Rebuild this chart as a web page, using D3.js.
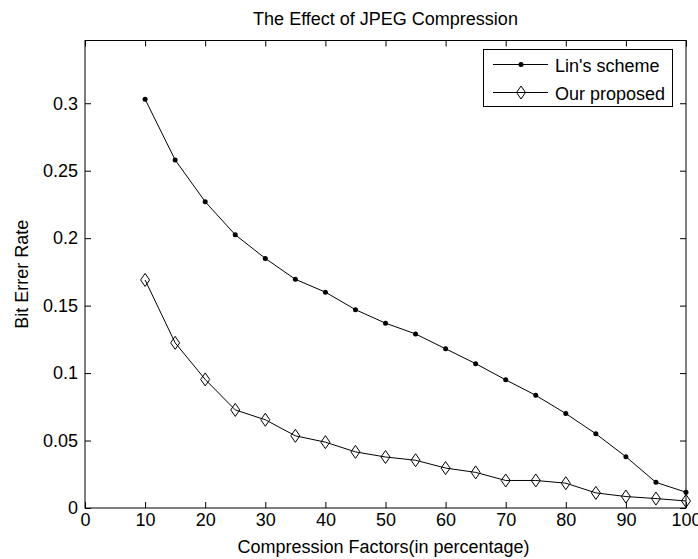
<!DOCTYPE html>
<html>
<head>
<meta charset="utf-8">
<script src="https://cdn.jsdelivr.net/npm/d3@7"></script>
<style>
    body { margin: 0; background: #fff; }
    svg { display: block; font-family: "Liberation Sans", Arial, sans-serif; }
    text { font-size: 18px; fill: #000; }
</style>
</head>
<body>
<div id="chart"></div>
<script>
// values
const compression = [10, 15, 20, 25, 30, 35, 40, 45, 50, 55, 60, 65, 70, 75, 80, 85, 90, 95, 100]
const linScheme = [0.303, 0.258, 0.227, 0.2025, 0.185, 0.1695, 0.160, 0.147, 0.137, 0.129,
    0.118, 0.107, 0.095, 0.0835, 0.070, 0.055, 0.038, 0.019, 0.0117]
const ourProposed = [0.169, 0.1224, 0.0953, 0.0727, 0.0654, 0.0535, 0.0488, 0.0416, 0.0378, 0.0354,
    0.0296, 0.0264, 0.0204, 0.0204, 0.0184, 0.0112, 0.0085, 0.007, 0.0052]
const xTicks = [0, 10, 20, 30, 40, 50, 60, 70, 80, 90, 100]
const yTicks = [0, 0.05, 0.1, 0.15, 0.2, 0.25, 0.3]
const seriesNames = ["Lin's scheme", "Our proposed"]

const width = 698
const height = 559
const box = {left: 85, right: 686, top: 40.5, bottom: 508}

const x = d3.scaleLinear().domain([0, 100]).range([box.left, box.right])
const y = d3.scaleLinear().domain([0, 0.3465]).range([box.bottom, box.top])

const svg = d3.select("#chart")
    .append("svg")
    .attr("width", width)
    .attr("height", height)

// axes, ticks pointing inward like matlab
const tickLen = 6
svg.append("g")
    .attr("transform", `translate(0,${box.bottom})`)
    .call(d3.axisBottom(x).tickValues(xTicks).tickSize(-tickLen).tickPadding(5).tickFormat(d3.format("d")))
svg.append("g")
    .attr("transform", `translate(0,${box.top})`)
    .call(d3.axisTop(x).tickValues(xTicks).tickSize(-tickLen).tickFormat(""))
svg.append("g")
    .attr("transform", `translate(${box.left},0)`)
    .call(d3.axisLeft(y).tickValues(yTicks).tickSize(-tickLen).tickPadding(7).tickFormat(d => d === 0 ? "0" : String(+d.toFixed(2))))
svg.append("g")
    .attr("transform", `translate(${box.right},0)`)
    .call(d3.axisRight(y).tickValues(yTicks).tickSize(-tickLen).tickFormat(""))

svg.selectAll(".domain").remove()
svg.selectAll(".tick line").attr("stroke", "#000")
svg.selectAll(".tick text")
    .attr("font-size", 18)
    .attr("font-family", "Liberation Sans, Arial, sans-serif")
    .attr("fill", "#000")

svg.append("rect")
    .attr("x", box.left)
    .attr("y", box.top)
    .attr("width", box.right - box.left)
    .attr("height", box.bottom - box.top)
    .attr("fill", "none")
    .attr("stroke", "#000")

// titles
svg.append("text")
    .attr("x", (box.left + box.right) / 2)
    .attr("y", 25)
    .attr("text-anchor", "middle")
    .text("The Effect of JPEG Compression")

svg.append("text")
    .attr("x", (box.left + box.right) / 2 - 2)
    .attr("y", 553)
    .attr("text-anchor", "middle")
    .text("Compression Factors(in percentage)")

svg.append("text")
    .attr("transform", `translate(28,${(box.top + box.bottom) / 2}) rotate(-90)`)
    .attr("text-anchor", "middle")
    .text("Bit Errer Rate")

// series
const diamond = "M0,-6.5L4.5,0L0,6.5L-4.5,0Z"
const line = d3.line()
    .x(d => x(d[0]))
    .y(d => y(d[1]))

const linData = compression.map((c, i) => [c, linScheme[i]])
const ourData = compression.map((c, i) => [c, ourProposed[i]])

svg.append("path")
    .datum(linData)
    .attr("d", line)
    .attr("fill", "none")
    .attr("stroke", "#000")

svg.append("path")
    .datum(ourData)
    .attr("d", line)
    .attr("fill", "none")
    .attr("stroke", "#000")

svg.selectAll("circle.lin")
    .data(linData)
    .enter()
    .append("circle")
    .classed("lin", true)
    .attr("cx", d => x(d[0]))
    .attr("cy", d => y(d[1]))
    .attr("r", 2.5)
    .attr("fill", "#000")

svg.selectAll("path.ours")
    .data(ourData)
    .enter()
    .append("path")
    .classed("ours", true)
    .attr("transform", d => `translate(${x(d[0])},${y(d[1])})`)
    .attr("d", diamond)
    .attr("fill", "none")
    .attr("stroke", "#000")

// legend
const legend = svg.append("g")
legend.append("rect")
    .attr("x", 483.5)
    .attr("y", 49.5)
    .attr("width", 189)
    .attr("height", 57)
    .attr("fill", "#fff")
    .attr("stroke", "#000")

const rows = [64.5, 92.5]
seriesNames.forEach((name, i) => {
    const g = legend.append("g").attr("transform", `translate(0,${rows[i]})`)
    g.append("line")
        .attr("x1", 493)
        .attr("x2", 548)
        .attr("stroke", "#000")
    if (i === 0) g.append("circle").attr("cx", 521).attr("r", 2.5).attr("fill", "#000")
    else g.append("path")
        .attr("transform", "translate(521,0)")
        .attr("d", diamond)
        .attr("fill", "none")
        .attr("stroke", "#000")
    g.append("text")
        .attr("x", 555)
        .attr("y", 7)
        .text(name)
})
</script>
</body>
</html>
